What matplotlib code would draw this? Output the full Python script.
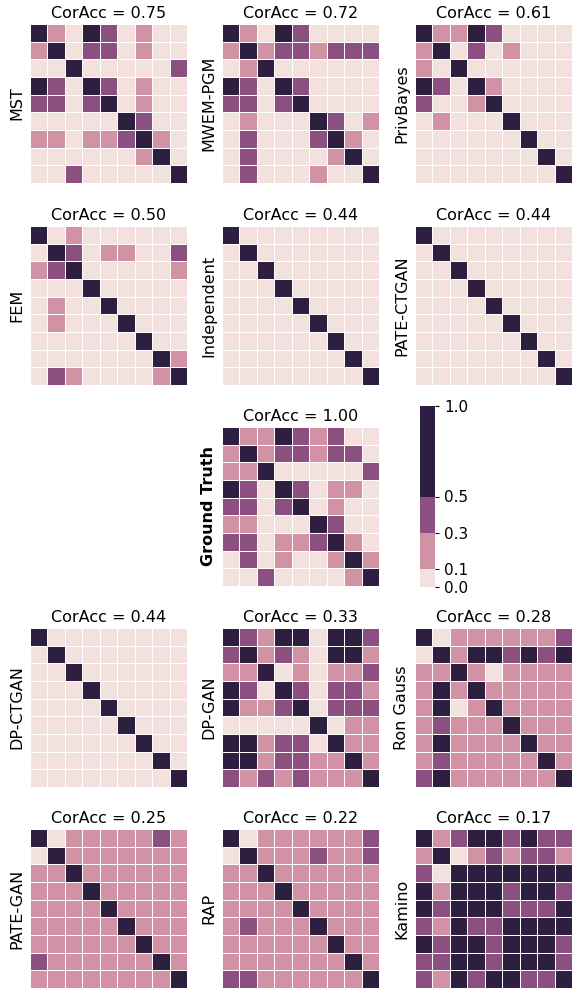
import numpy as np
import matplotlib
matplotlib.use("Agg")
import matplotlib.pyplot as plt
from matplotlib.colors import ListedColormap, BoundaryNorm
import matplotlib.cm as cm
import seaborn as sns

# correlation level per cell: 0 -> [0,0.1), 1 -> [0.1,0.3), 2 -> [0.3,0.5), 3 -> [0.5,1]
level_value = [0.05, 0.2, 0.4, 0.8]
bounds = [0.0, 0.1, 0.3, 0.5, 1.0]
colors = ["#f2e1dc", "#d192a6", "#8b4f80", "#2e1e3f"]

identity = ["300000000", "030000000", "003000000", "000300000", "000030000",
            "000003000", "000000300", "000000030", "000000003"]

mst = ["310320100", "130220100", "003000002", "320320100", "220230100",
       "000003200", "110112310", "000000130", "002000003"]
mwem_pgm = ["310320000", "131221222", "013000000", "320320000", "220230000",
            "010003201", "020002310", "020000130", "020001003"]
privbayes = ["311320000", "130201000", "103000000", "320310000", "200130000",
             "010003000", "000000300", "000000030", "000000003"]
fem = ["301000000", "032011002", "123000001", "000300000", "010030000",
       "010003000", "000000300", "000000031", "021000013"]
ground_truth = ["311321200", "131221220", "113000002", "320320110", "220230100",
                "110003200", "220112310", "020100131", "002000013"]
dp_gan = ["321330332", "231210331", "113010112", "320320221", "311230222",
          "000003011", "331220311", "331221131", "212121113"]
ron_gauss = ["301111112", "031332323", "113101111", "131311111", "130131111",
             "121113111", "131111311", "121111131", "231111113"]
pate_gan = ["301111121", "031111111", "113111111", "111311111", "111131111",
            "111113111", "111111311", "211111131", "111111113"]
rap = ["301111112", "031112112", "113111111", "111311111", "111131111",
       "121113111", "111111311", "111111131", "221111113"]
kamino = ["312332322", "130121221", "203333333", "313332332", "323332223",
          "213223333", "323323332", "223323332", "213233223"]

top_row = [("MST", mst, "0.75"), ("MWEM-PGM", mwem_pgm, "0.72"), ("PrivBayes", privbayes, "0.61")]
second_row = [("FEM", fem, "0.50"), ("Independent", identity, "0.44"), ("PATE-CTGAN", identity, "0.44")]
fourth_row = [("DP-CTGAN", identity, "0.44"), ("DP-GAN", dp_gan, "0.33"), ("Ron Gauss", ron_gauss, "0.28")]
fifth_row = [("PATE-GAN", pate_gan, "0.25"), ("RAP", rap, "0.22"), ("Kamino", kamino, "0.17")]


def to_matrix(rows):
    return np.array([[level_value[int(c)] for c in r] for r in rows])


W, H = 573, 990
fig = plt.figure(figsize=(W / 100, H / 100), dpi=100)
cmap = ListedColormap(colors)
norm = BoundaryNorm(bounds, cmap.N)

col_left = [30, 222, 415]
row_top = [24, 226, 427, 628, 829]
aw, ah = 157, 159


def panel(left, top, name, rows, score, bold=False):
    ax = fig.add_axes([left / W, 1 - (top + ah) / H, aw / W, ah / H])
    sns.heatmap(to_matrix(rows), ax=ax, cmap=cmap, norm=norm, cbar=False,
                linewidths=0.6, linecolor="white", xticklabels=False, yticklabels=False)
    ax.set_title(f"CorAcc = {score}", fontsize=11.5, pad=4)
    ax.set_ylabel(name, fontsize=11.5, fontweight="bold" if bold else "normal")
    return ax


for r, row in zip([0, 1, 3, 4], [top_row, second_row, fourth_row, fifth_row]):
    for c, (name, rows, score) in enumerate(row):
        panel(col_left[c], row_top[r], name, rows, score)

panel(col_left[1], row_top[2], "Ground Truth", ground_truth, "1.00", bold=True)

cax = fig.add_axes([420 / W, 1 - 587 / H, 15 / W, 181 / H])
cb = fig.colorbar(cm.ScalarMappable(norm=norm, cmap=cmap), cax=cax,
                  ticks=bounds, spacing="proportional")
cb.outline.set_visible(False)
cb.ax.set_yticklabels([f"{b:.1f}" for b in bounds])
cb.ax.tick_params(labelsize=11, length=3)

fig.savefig("out.png", dpi=100)
